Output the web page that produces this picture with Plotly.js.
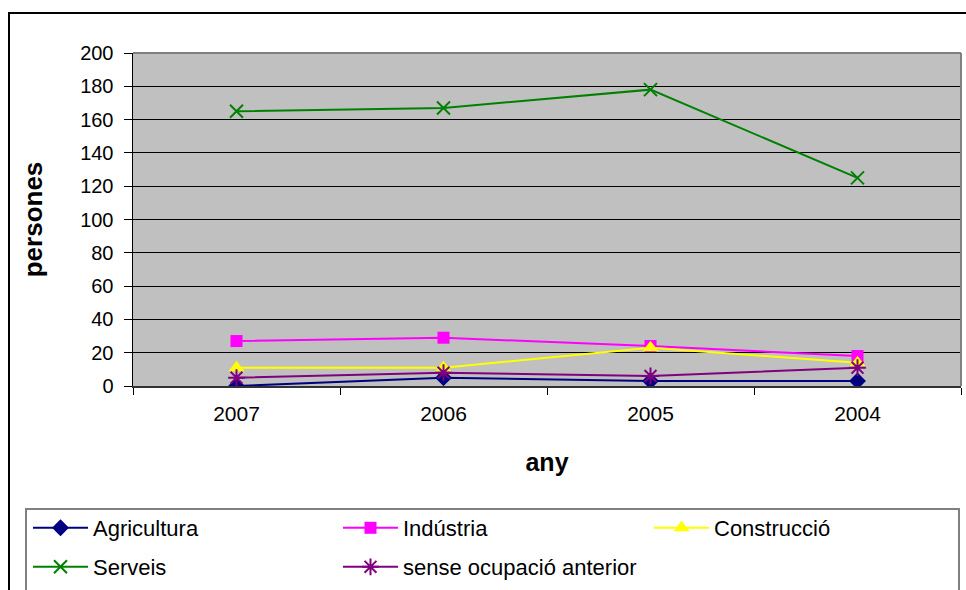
<!DOCTYPE html>
<html>
<head>
<meta charset="utf-8">
<script src="https://cdn.plot.ly/plotly-3.0.1.min.js"></script>
<style>
  html, body { margin: 0; padding: 0; background: #ffffff; }
  #chart { width: 966px; height: 590px; }
</style>
</head>
<body>
<div id="chart"></div>
<script>
// Categories (years) and series values
var years = ['2007', '2006', '2005', '2004'];
var agricultura = [0, 5, 3, 3];
var industria = [27, 29, 24, 18];
var construccio = [11, 11, 23, 14];
var serveis = [165, 167, 178, 125];
var senseOcupacio = [5, 8, 6, 11];

var seriesNames = ['Agricultura', 'Indústria', 'Construcció', 'Serveis', 'sense ocupació anterior'];
var yTicks = [0, 20, 40, 60, 80, 100, 120, 140, 160, 180, 200];

var FONT = 'Liberation Sans, Arial, Helvetica, sans-serif';
var W = 966, H = 590;
var M = { l: 133, r: 5, t: 53, b: 204 };
var PW = W - M.l - M.r, PH = H - M.t - M.b;

// pixel -> paper coordinate helpers for frame decorations
function px(x) { return (x - M.l) / PW; }
function py(y) { return (H - M.b - y) / PH; }

function series(name, values, color, symbol, size, legendId, markerLineWidth) {
  return {
    type: 'scatter', mode: 'lines+markers', name: name,
    x: years, y: values,
    line: { color: color, width: 2 },
    marker: { symbol: symbol, size: size, color: color,
              line: { color: color, width: markerLineWidth || 0 } },
    legend: legendId,
    hoverinfo: 'name+y'
  };
}

var traces = [
  series(seriesNames[0], agricultura, '#000080', 'diamond', 13, 'legend'),
  series(seriesNames[1], industria, '#FF00FF', 'square', 12, 'legend'),
  series(seriesNames[2], construccio, '#FFFF00', 'triangle-up', 14, 'legend3'),
  series(seriesNames[3], serveis, '#008000', 'x-thin', 13, 'legend2', 2),
  series(seriesNames[4], senseOcupacio, '#800080', 'asterisk', 14, 'legend2', 2)
];

// legend grid: three columns, two rows, placed in container coordinates
function legendAt(xPix, yPix) {
  return {
    orientation: 'h',
    xref: 'container', yref: 'container',
    xanchor: 'left', yanchor: 'middle',
    x: xPix / W, y: 1 - yPix / H,
    entrywidth: 240,
    itemwidth: 55,
    font: { family: FONT, size: 22, color: '#000000' },
    bgcolor: 'rgba(0,0,0,0)',
    borderwidth: 0,
    itemclick: false, itemdoubleclick: false
  };
}

var layout = {
  width: W, height: H,
  margin: M,
  paper_bgcolor: '#FFFFFF',
  plot_bgcolor: '#C0C0C0',
  font: { family: FONT, color: '#000000' },
  showlegend: true,
  legend: legendAt(28, 528),
  legend3: legendAt(649, 528),
  legend2: legendAt(28, 567),
  xaxis: {
    type: 'category',
    range: [-0.5, 3.5],
    tickson: 'boundaries',
    ticks: 'outside', ticklen: 7, tickwidth: 1, tickcolor: '#000000',
    ticklabelstandoff: 8,
    showgrid: false, zeroline: false,
    showline: true, linecolor: '#333333', linewidth: 2,
    tickfont: { family: FONT, size: 21, color: '#000000' },
    title: { text: 'any', font: { family: FONT, size: 25, color: '#000000', weight: 'bold' }, standoff: 29 },
    fixedrange: true
  },
  yaxis: {
    range: [0, 200],
    tickvals: yTicks,
    ticktext: yTicks.map(String),
    ticks: 'outside', ticklen: 8, tickwidth: 1, tickcolor: '#000000',
    ticklabelstandoff: 6,
    showgrid: true, gridcolor: '#000000', gridwidth: 1,
    zeroline: false,
    showline: true, linecolor: '#000000', linewidth: 1.5,
    tickfont: { family: FONT, size: 20, color: '#000000' },
    title: { text: 'persones', font: { family: FONT, size: 26, color: '#000000', weight: 'bold' }, standoff: 30 },
    fixedrange: true
  },
  shapes: [
    // plot area top and right edges
    { type: 'line', xref: 'paper', yref: 'paper', x0: 0, x1: 1, y0: 1, y1: 1,
      line: { color: '#808080', width: 2 }, layer: 'above' },
    { type: 'line', xref: 'paper', yref: 'paper', x0: 1, x1: 1, y0: 0, y1: 1,
      line: { color: '#808080', width: 2 }, layer: 'above' },
    // chart frame
    { type: 'rect', xref: 'paper', yref: 'paper',
      x0: px(9), x1: px(990), y0: py(13), y1: py(620),
      line: { color: '#000000', width: 2 }, fillcolor: 'rgba(0,0,0,0)', layer: 'above' },
    // legend box
    { type: 'rect', xref: 'paper', yref: 'paper',
      x0: px(26), x1: px(959), y0: py(509), y1: py(620),
      line: { color: '#808080', width: 2 }, fillcolor: 'rgba(0,0,0,0)', layer: 'above' }
  ]
};

Plotly.newPlot('chart', traces, layout, { displayModeBar: false, staticPlot: true });
</script>
</body>
</html>
